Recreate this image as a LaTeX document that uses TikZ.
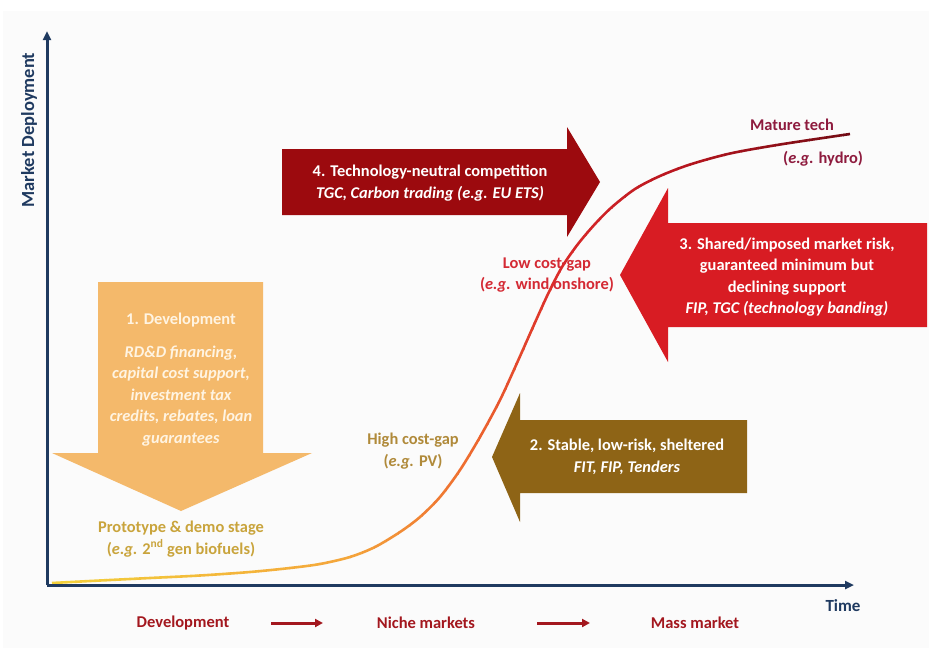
\documentclass[tikz,border=0pt]{standalone}
\usepackage{fontspec}
\setmainfont{Carlito}
\usetikzlibrary{arrows.meta}
\definecolor{navy}{HTML}{1F3A60}
\definecolor{bgg}{HTML}{FBFBFB}
\definecolor{devfill}{HTML}{F4B96B}
\definecolor{devtext}{HTML}{FFF4E2}
\definecolor{techfill}{HTML}{9C0A0E}
\definecolor{sharefill}{HTML}{D81C23}
\definecolor{stablefill}{HTML}{8E6416}
\definecolor{protocol}{HTML}{C9A43C}
\definecolor{highcol}{HTML}{B08A3A}
\definecolor{lowcol}{HTML}{D42A34}
\definecolor{maturecol}{HTML}{8E1B3E}
\definecolor{phasecol}{HTML}{A3171E}
\definecolor{cY}{HTML}{F3D23B}
\definecolor{cO}{HTML}{F4A53B}
\definecolor{cOR}{HTML}{EE6B2F}
\definecolor{cR}{HTML}{DA2A2A}
\definecolor{cDR}{HTML}{B4141E}
\definecolor{cM}{HTML}{6E0B14}
\begin{document}
\begin{tikzpicture}[x=1pt,y=-1pt,
  arrtext/.style={text=white, align=center, inner sep=0pt,
    font=\fontsize{16.4}{21.5}\selectfont\bfseries},
  lbl/.style={align=center, inner sep=0pt,
    font=\fontsize{16.4}{21.5}\selectfont\bfseries},
  phase/.style={text=phasecol, inner sep=0pt,
    font=\fontsize{16.5}{19}\selectfont\bfseries},
  axis/.style={navy, line width=3pt, -{Triangle[length=9pt,width=8pt]}},
  phasearrow/.style={phasecol, line width=3pt, -{Triangle[length=8pt,width=8pt]}}
]
\useasboundingbox (0,0) rectangle (929,648);
\fill[white] (0,0) rectangle (929,648);
\fill[bgg] (3,11) rectangle (929,648);

% policy arrows
\fill[devfill] (98,282) -- (263,282) -- (263,453) -- (312,453) -- (181,511) -- (52,453) -- (98,453) -- cycle;
\fill[techfill] (282,149) -- (567,149) -- (567,127) -- (600,182) -- (567,237) -- (567,215) -- (282,215) -- cycle;
\fill[sharefill] (927,223) -- (668,223) -- (668,188) -- (620,275) -- (668,362) -- (668,327) -- (927,327) -- cycle;
\fill[stablefill] (747,420) -- (520,420) -- (520,393) -- (492,457) -- (520,522) -- (520,493) -- (747,493) -- cycle;

\node[arrtext, text=devtext] (devtitle) at (181,320) {1. Development};
\node[arrtext, text=devtext] (devbody) at (181,396) {\itshape RD\&D financing,\\\itshape capital cost support,\\\itshape investment tax\\\itshape credits, rebates, loan\\\itshape guarantees};
\node[arrtext] (tech) at (430,183) {4. Technology-neutral competition\\\itshape TGC, Carbon trading (e.g. EU ETS)};
\node[arrtext] (share) at (787,277) {3. Shared/imposed market risk,\\guaranteed minimum but\\declining support\\\itshape FIP, TGC (technology banding)};
\node[arrtext] (stable) at (627,457) {2. Stable, low-risk, sheltered\\\itshape FIT, FIP, Tenders};

% S-curve with colour gradient
\def\scurve{plot[smooth,tension=0.5] coordinates {(52,583) (100,580.5) (150,578) (200,575.5) (250,572) (290,568) (320,564) (350,557) (375,547) (400,532) (420,517) (440,497) (460,470) (480,437) (500,400) (517,363) (533,327) (548,294) (562,267) (578,244) (595,224) (612,207) (635,189) (660,176) (690,164.5) (730,153.5) (780,144.5) (850,134)}}
\foreach \a/\b/\ca/\cb in {45/350/cY/cO,350/470/cO/cOR,470/560/cOR/cR,560/690/cR/cDR,690/860/cDR/cM}{
  \foreach \i in {0,...,9}{
    \pgfmathsetmacro\xa{\a+(\b-\a)*\i/10}
    \pgfmathsetmacro\xb{\a+(\b-\a)*(\i+1)/10+0.6}
    \pgfmathtruncatemacro\p{95-\i*10}
    \begin{scope}
      \clip (\xa,0) rectangle (\xb,648);
      \draw[line width=2.6pt, color=\ca!\p!\cb] \scurve;
    \end{scope}
  }
}

% stage labels
\node[lbl, text=protocol] (proto) at (181,539) {Prototype \& demo stage\\(\textit{e.g.} 2\textsuperscript{nd} gen biofuels)};
\node[lbl, text=highcol] (high) at (413,451) {High cost-gap\\(\textit{e.g.} PV)};
\node[lbl, text=lowcol] (low) at (547,275) {Low cost-gap\\(\textit{e.g.} wind onshore)};
\node[lbl, text=maturecol] (mature) at (792,125) {Mature tech};
\node[lbl, text=maturecol] (hydro) at (823,159) {(\textit{e.g.} hydro)};

% axes
\coordinate (origin) at (47,585);
\coordinate (ytip) at (47,31);
\coordinate (xtip) at (854,585);
\draw[axis] (origin) -- (ytip);
\draw[axis] (origin) -- (xtip);
\node[rotate=90, text=navy, inner sep=0pt, font=\fontsize{18.5}{21}\selectfont\bfseries] (ylab) at (29,130) {Market Deployment};
\node[text=navy, inner sep=0pt, font=\fontsize{17}{19}\selectfont\bfseries] (time) at (843,606) {Time};

% phases
\node[phase] (pdev) at (183,623) {Development};
\node[phase] (pniche) at (426,623) {Niche markets};
\node[phase] (pmass) at (695,623) {Mass market};
\coordinate (a1s) at (271,623);
\coordinate (a1e) at (323,623);
\coordinate (a2s) at (537,623);
\coordinate (a2e) at (590,623);
\draw[phasearrow] (a1s) -- (a1e);
\draw[phasearrow] (a2s) -- (a2e);
\end{tikzpicture}
\end{document}
